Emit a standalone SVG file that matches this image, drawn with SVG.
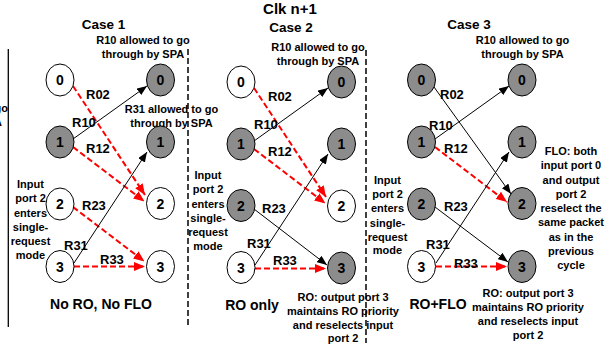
<svg xmlns="http://www.w3.org/2000/svg" width="613" height="347" viewBox="0 0 613 347">
<defs>
<marker id="ab" markerUnits="userSpaceOnUse" markerWidth="10" markerHeight="8" refX="10" refY="4" orient="auto"><path d="M0,0 L10,4 L0,8 z" fill="#000"/></marker>
<marker id="ar" markerUnits="userSpaceOnUse" markerWidth="11" markerHeight="9" refX="11" refY="4.5" orient="auto"><path d="M0,0 L11,4.5 L0,9 z" fill="#f00"/></marker>
<style>
text{font-family:"Liberation Sans",Arial,sans-serif;font-weight:bold;fill:#000}
.n ellipse{stroke:#000;stroke-width:1}
.w{fill:#fff}
.g{fill:#8c8c8c}
.n text{font-size:14px;text-anchor:middle}
.t{font-size:13.5px;text-anchor:middle}
.a{font-size:11px;text-anchor:middle}
.l{font-size:13px}
.b{font-size:14px;text-anchor:middle}
.k{stroke:#000;stroke-width:1;fill:none;marker-end:url(#ab)}
.r{stroke:#f00;stroke-width:2;stroke-dasharray:6,3;fill:none;marker-end:url(#ar)}
.v{stroke:#000;stroke-width:1.5;stroke-dasharray:6,3;fill:none}
</style>
</defs>
<rect width="613" height="347" fill="#fff"/>

<line x1="8.3" y1="49" x2="8.3" y2="327" stroke="#000" stroke-width="1.3"/>
<line class="v" x1="188" y1="49" x2="188" y2="326"/>
<line class="v" x1="366" y1="50" x2="366" y2="343"/>

<text x="8" y="112" class="a" style="text-anchor:end">go</text>
<text x="2" y="126" class="a" style="text-anchor:end">SPA</text>

<text x="290" y="14" class="t" style="font-size:15px">Clk n+1</text>
<text x="103.5" y="29" class="t">Case 1</text>
<text x="291" y="32" class="t">Case 2</text>
<text x="469" y="29" class="t">Case 3</text>

<text class="a"><tspan x="143" y="44">R10 allowed to go</tspan><tspan x="143" y="58">through by SPA</tspan></text>
<text class="a"><tspan x="171.5" y="113">R31 allowed to go</tspan><tspan x="171.5" y="127">through by SPA</tspan></text>
<text class="a"><tspan x="318" y="51">R10 allowed to go</tspan><tspan x="318" y="65">through by SPA</tspan></text>
<text class="a"><tspan x="522.5" y="44">R10 allowed to go</tspan><tspan x="522.5" y="58">through by SPA</tspan></text>

<text class="a"><tspan x="30.5" y="188">Input</tspan><tspan x="30.5" y="202">port 2</tspan><tspan x="30.5" y="216.5">enters</tspan><tspan x="30.5" y="231">single-</tspan><tspan x="30.5" y="245">request</tspan><tspan x="30.5" y="258.5">mode</tspan></text>
<text class="a"><tspan x="208" y="179">Input</tspan><tspan x="208" y="193">port 2</tspan><tspan x="208" y="207.5">enters</tspan><tspan x="208" y="222">single-</tspan><tspan x="208" y="236">request</tspan><tspan x="208" y="250">mode</tspan></text>
<text class="a"><tspan x="387.5" y="184">Input</tspan><tspan x="387.5" y="198">port 2</tspan><tspan x="387.5" y="212">enters</tspan><tspan x="387.5" y="226.5">single-</tspan><tspan x="387.5" y="240.5">request</tspan><tspan x="387.5" y="254">mode</tspan></text>

<text class="a"><tspan x="571" y="155">FLO: both</tspan><tspan x="571" y="169.3">input port 0</tspan><tspan x="571" y="183.5">and output</tspan><tspan x="571" y="197.8">port 2</tspan><tspan x="571" y="212">reselect the</tspan><tspan x="571" y="226.3">same packet</tspan><tspan x="571" y="240.5">as in the</tspan><tspan x="571" y="254.8">previous</tspan><tspan x="571" y="269">cycle</tspan></text>

<text class="a"><tspan x="343" y="300.5">RO: output port 3</tspan><tspan x="343" y="314.5">maintains RO priority</tspan><tspan x="343" y="328.5">and reselects input</tspan><tspan x="343" y="342">port 2</tspan></text>
<text class="a"><tspan x="528" y="297">RO: output port 3</tspan><tspan x="528" y="311">maintains RO priority</tspan><tspan x="528" y="325">and reselects input</tspan><tspan x="528" y="338.5">port 2</tspan></text>

<text class="b" x="101" y="309">No RO, No FLO</text>
<text class="b" x="252" y="310">RO only</text>
<text class="b" x="438" y="309">RO+FLO</text>

<g id="connectors">
<!-- case 1 -->
<line class="r" x1="73" y1="86" x2="145" y2="195"/>
<line class="k" x1="73" y1="139" x2="147" y2="86"/>
<line class="r" x1="73" y1="147" x2="144.5" y2="201.5"/>
<line class="r" x1="73" y1="207" x2="144.5" y2="261.5"/>
<line class="k" x1="74" y1="263" x2="147" y2="152"/>
<line class="r" x1="74" y1="266.5" x2="145" y2="266.5"/>
<!-- case 2 -->
<line class="r" x1="254" y1="88" x2="326" y2="197"/>
<line class="k" x1="254" y1="141" x2="328" y2="88"/>
<line class="r" x1="254" y1="149" x2="325.5" y2="203.5"/>
<line class="k" x1="254" y1="209" x2="327" y2="265"/>
<line class="k" x1="255" y1="265" x2="328" y2="154"/>
<line class="r" x1="255" y1="268.5" x2="326" y2="268.5"/>
<!-- case 3 -->
<line class="k" x1="434" y1="87" x2="511" y2="194"/>
<line class="k" x1="435" y1="139" x2="509" y2="86"/>
<line class="r" x1="435" y1="147" x2="507" y2="202"/>
<line class="k" x1="435" y1="207" x2="508" y2="262"/>
<line class="k" x1="436" y1="263" x2="509" y2="152"/>
<line class="r" x1="436" y1="266.5" x2="507" y2="266.5"/>
</g>

<text class="l" x="86" y="99">R02</text>
<text class="l" x="72" y="127">R10</text>
<text class="l" x="86" y="153">R12</text>
<text class="l" x="82" y="210">R23</text>
<text class="l" x="64" y="250">R31</text>
<text class="l" x="100" y="264">R33</text>

<text class="l" x="268" y="101">R02</text>
<text class="l" x="254" y="129">R10</text>
<text class="l" x="268" y="156">R12</text>
<text class="l" x="262" y="213">R23</text>
<text class="l" x="247" y="248">R31</text>
<text class="l" x="273" y="265">R33</text>

<text class="l" x="440" y="99">R02</text>
<text class="l" x="429" y="130">R10</text>
<text class="l" x="444" y="153">R12</text>
<text class="l" x="444" y="211">R23</text>
<text class="l" x="426" y="249">R31</text>
<text class="l" x="454" y="268">R33</text>

<!-- case 1 nodes -->
<g id="c1-in0" class="n"><ellipse class="w" cx="60" cy="80" rx="14" ry="16"/><text x="60" y="85">0</text></g>
<g id="c1-in1" class="n"><ellipse class="g" cx="60" cy="142" rx="14" ry="16"/><text x="60" y="147">1</text></g>
<g id="c1-in2" class="n"><ellipse class="w" cx="60" cy="204" rx="14" ry="16"/><text x="60" y="209">2</text></g>
<g id="c1-in3" class="n"><ellipse class="w" cx="60" cy="266.5" rx="14" ry="16"/><text x="60" y="271.5">3</text></g>
<g id="c1-out0" class="n"><ellipse class="g" cx="160.5" cy="80" rx="14" ry="16"/><text x="160.5" y="85">0</text></g>
<g id="c1-out1" class="n"><ellipse class="g" cx="160.5" cy="142" rx="14" ry="16"/><text x="160.5" y="147">1</text></g>
<g id="c1-out2" class="n"><ellipse class="w" cx="160.5" cy="203.5" rx="14" ry="16"/><text x="160.5" y="208.5">2</text></g>
<g id="c1-out3" class="n"><ellipse class="w" cx="160.5" cy="266.5" rx="14" ry="16"/><text x="160.5" y="271.5">3</text></g>

<!-- case 2 nodes -->
<g id="c2-in0" class="n"><ellipse class="w" cx="241" cy="82" rx="14" ry="16"/><text x="241" y="87">0</text></g>
<g id="c2-in1" class="n"><ellipse class="g" cx="241" cy="144" rx="14" ry="16"/><text x="241" y="149">1</text></g>
<g id="c2-in2" class="n"><ellipse class="g" cx="241" cy="205.5" rx="14" ry="16"/><text x="241" y="210.5">2</text></g>
<g id="c2-in3" class="n"><ellipse class="w" cx="241" cy="267.5" rx="14" ry="16"/><text x="241" y="272.5">3</text></g>
<g id="c2-out0" class="n"><ellipse class="g" cx="341.5" cy="82" rx="14" ry="16"/><text x="341.5" y="87">0</text></g>
<g id="c2-out1" class="n"><ellipse class="g" cx="341.5" cy="144" rx="14" ry="16"/><text x="341.5" y="149">1</text></g>
<g id="c2-out2" class="n"><ellipse class="w" cx="341.5" cy="206" rx="14" ry="16"/><text x="341.5" y="211">2</text></g>
<g id="c2-out3" class="n"><ellipse class="g" cx="341.5" cy="268" rx="14" ry="16"/><text x="341.5" y="273">3</text></g>

<!-- case 3 nodes -->
<g id="c3-in0" class="n"><ellipse class="g" cx="421.5" cy="80" rx="14" ry="16"/><text x="421.5" y="85">0</text></g>
<g id="c3-in1" class="n"><ellipse class="g" cx="421.5" cy="142" rx="14" ry="16"/><text x="421.5" y="147">1</text></g>
<g id="c3-in2" class="n"><ellipse class="g" cx="421.5" cy="204" rx="14" ry="16"/><text x="421.5" y="209">2</text></g>
<g id="c3-in3" class="n"><ellipse class="w" cx="421.5" cy="266.5" rx="14" ry="16"/><text x="421.5" y="271.5">3</text></g>
<g id="c3-out0" class="n"><ellipse class="g" cx="522" cy="80" rx="14" ry="16"/><text x="522" y="85">0</text></g>
<g id="c3-out1" class="n"><ellipse class="g" cx="522" cy="142" rx="14" ry="16"/><text x="522" y="147">1</text></g>
<g id="c3-out2" class="n"><ellipse class="g" cx="522" cy="203.5" rx="14" ry="16"/><text x="522" y="208.5">2</text></g>
<g id="c3-out3" class="n"><ellipse class="g" cx="522" cy="266.5" rx="14" ry="16"/><text x="522" y="271.5">3</text></g>
</svg>
